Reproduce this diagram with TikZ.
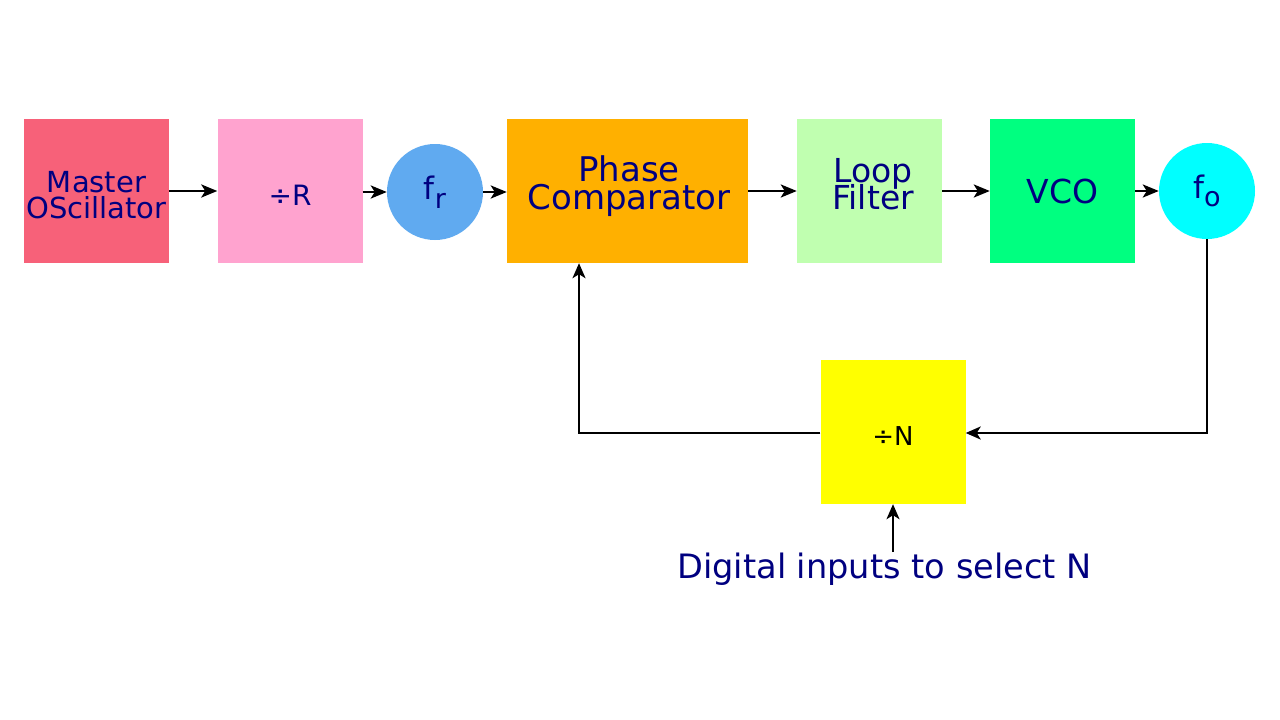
\documentclass[tikz,border=0pt]{standalone}
\usepackage{fontspec}
\setmainfont{DejaVu Sans}
\usetikzlibrary{arrows.meta}
\definecolor{txt}{HTML}{000080}
\definecolor{cmaster}{HTML}{F76179}
\definecolor{cdivr}{HTML}{FFA3CF}
\definecolor{cfr}{HTML}{60AAF0}
\definecolor{cphase}{HTML}{FFB000}
\definecolor{cloop}{HTML}{C0FFB0}
\definecolor{cvco}{HTML}{00FF80}
\definecolor{cfo}{HTML}{00FFFF}
\definecolor{cdivn}{HTML}{FFFF00}
\newcommand{\tightfont}[2]{\fontsize{#1}{#2}\selectfont\lineskiplimit=-100pt\lineskip=0pt}
\begin{document}
\begin{tikzpicture}[x=1pt,y=1pt,
  blk/.style={rectangle,minimum width=145pt,minimum height=144pt,inner sep=0pt,text=txt,align=center},
  circ/.style={circle,minimum size=96pt,inner sep=0pt,text=txt},
  arr/.style={-{Stealth[length=16pt,width=13pt,inset=4pt]},line width=2.8pt,black},
  farr/.style={-{Stealth[length=15pt,width=13pt,inset=4pt]},line width=2.3pt,black}]
\useasboundingbox (0,0) rectangle (1280,-720);
\fill[white] (0,0) rectangle (1280,-720);
\node[blk,fill=cmaster] (mo) at (96.5,-191) {};
\node[text=txt,align=center,inner sep=0pt,font=\tightfont{29}{26}] (mot) at (96.5,-195) {Master\\OScillator};
\node[blk,fill=cdivr] (dr) at (290,-191) {};
\node[text=txt,inner sep=0pt,font=\tightfont{28}{28}] (drt) at (290,-195) {÷R};
\node[circ,fill=cfr,font=\fontsize{31}{31}\selectfont] (fr) at (435,-192) {f\raisebox{-0.28em}{\fontsize{27}{27}\selectfont r}};
\node[blk,fill=cphase,minimum width=241pt] (pc) at (627.5,-191) {};
\node[text=txt,align=center,inner sep=0pt,font=\tightfont{34}{28}] (pct) at (629,-186) {Phase\\Comparator};
\node[blk,fill=cloop] (lf) at (869.5,-191) {};
\node[text=txt,align=center,inner sep=0pt,font=\tightfont{33}{26.5}] (lft) at (873,-184) {Loop\\Filter};
\node[blk,fill=cvco,font=\fontsize{33}{33}\selectfont] (vco) at (1062.5,-191) {VCO};
\node[circ,fill=cfo,font=\fontsize{31}{31}\selectfont] (fo) at (1207,-191) {f\raisebox{-0.28em}{\fontsize{27}{27}\selectfont o}};
\node[blk,fill=cdivn] (dn) at (893,-432) {};
\node[text=black,inner sep=0pt,font=\tightfont{26}{26}] (dnt) at (893,-436) {÷N};
\node[text=txt,font=\fontsize{33.6}{33}\selectfont,inner sep=0pt,anchor=base] (dig) at (884.5,-578) {Digital inputs to select N};
\coordinate (c1) at (1207,-433);
\coordinate (c2) at (579,-433);
\coordinate (din) at (893,-552);
\draw[arr] (mo.east) -- (dr.west |- mo.east);
\draw[arr] (dr.east |- fr.west) -- (fr.west);
\draw[arr] (fr.east) -- (pc.west |- fr.east);
\draw[arr] (pc.east) -- (lf.west);
\draw[arr] (lf.east) -- (vco.west);
\draw[arr] (vco.east) -- (fo.west);
\draw[farr] (fo.south) -- (c1) -- (dn.east |- c1);
\draw[farr] (dn.west |- c2) -- (c2) -- (c2 |- pc.south);
\draw[farr,line width=2pt] (din) -- (dn.south);
\end{tikzpicture}
\end{document}
